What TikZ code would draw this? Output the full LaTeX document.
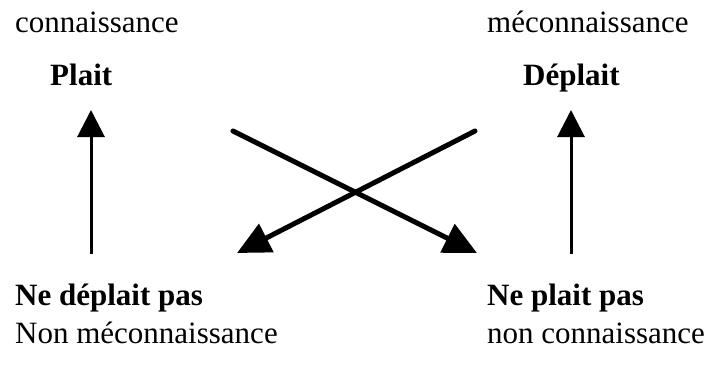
\documentclass[tikz,border=0pt]{standalone}
\usepackage{fontspec}
\setmainfont{Liberation Serif}
\usetikzlibrary{arrows.meta}

\begin{document}
\begin{tikzpicture}[x=1pt, y=-1pt,
    lbl/.style={anchor=base west, inner sep=0pt, font=\fontsize{31}{37}\selectfont},
    head/.style={lbl, font=\fontsize{31}{37}\selectfont\bfseries},
    uparrow/.style={line width=3pt, -{Triangle[length=27pt,width=27pt]}},
    crossarrow/.style={line width=5pt, line cap=round, -{Triangle[length=33pt,width=31pt]}}]

    \useasboundingbox (0,0) rectangle (707,367);

    % Top labels
    \node[lbl] (conn) at (15,32) {connaissance};
    \node[lbl] (mconn) at (487,32) {méconnaissance};
    \node[head] (plait) at (50,85) {Plait};
    \node[head] (deplait) at (523,85) {Déplait};

    % Bottom labels
    \node[head] (nedeplait) at (15,305) {Ne déplait pas};
    \node[head] (neplait) at (487,305) {Ne plait pas};
    \node[lbl] (nonmconn) at (15,343) {Non méconnaissance};
    \node[lbl] (nonconn) at (487,343) {non connaissance};

    % Arrow ends
    \coordinate (lfoot) at (91,254);
    \coordinate (ltip) at (91,110);
    \coordinate (rfoot) at (571,254);
    \coordinate (rtip) at (571,110);
    \coordinate (xstart) at (233,131);
    \coordinate (xend) at (477,253);
    \coordinate (ystart) at (475,131);
    \coordinate (yend) at (237,253);

    % Vertical arrows
    \draw[uparrow] (lfoot) -- (ltip);
    \draw[uparrow] (rfoot) -- (rtip);

    % Crossing arrows
    \draw[crossarrow] (xstart) -- (xend);
    \draw[crossarrow] (ystart) -- (yend);

\end{tikzpicture}
\end{document}
